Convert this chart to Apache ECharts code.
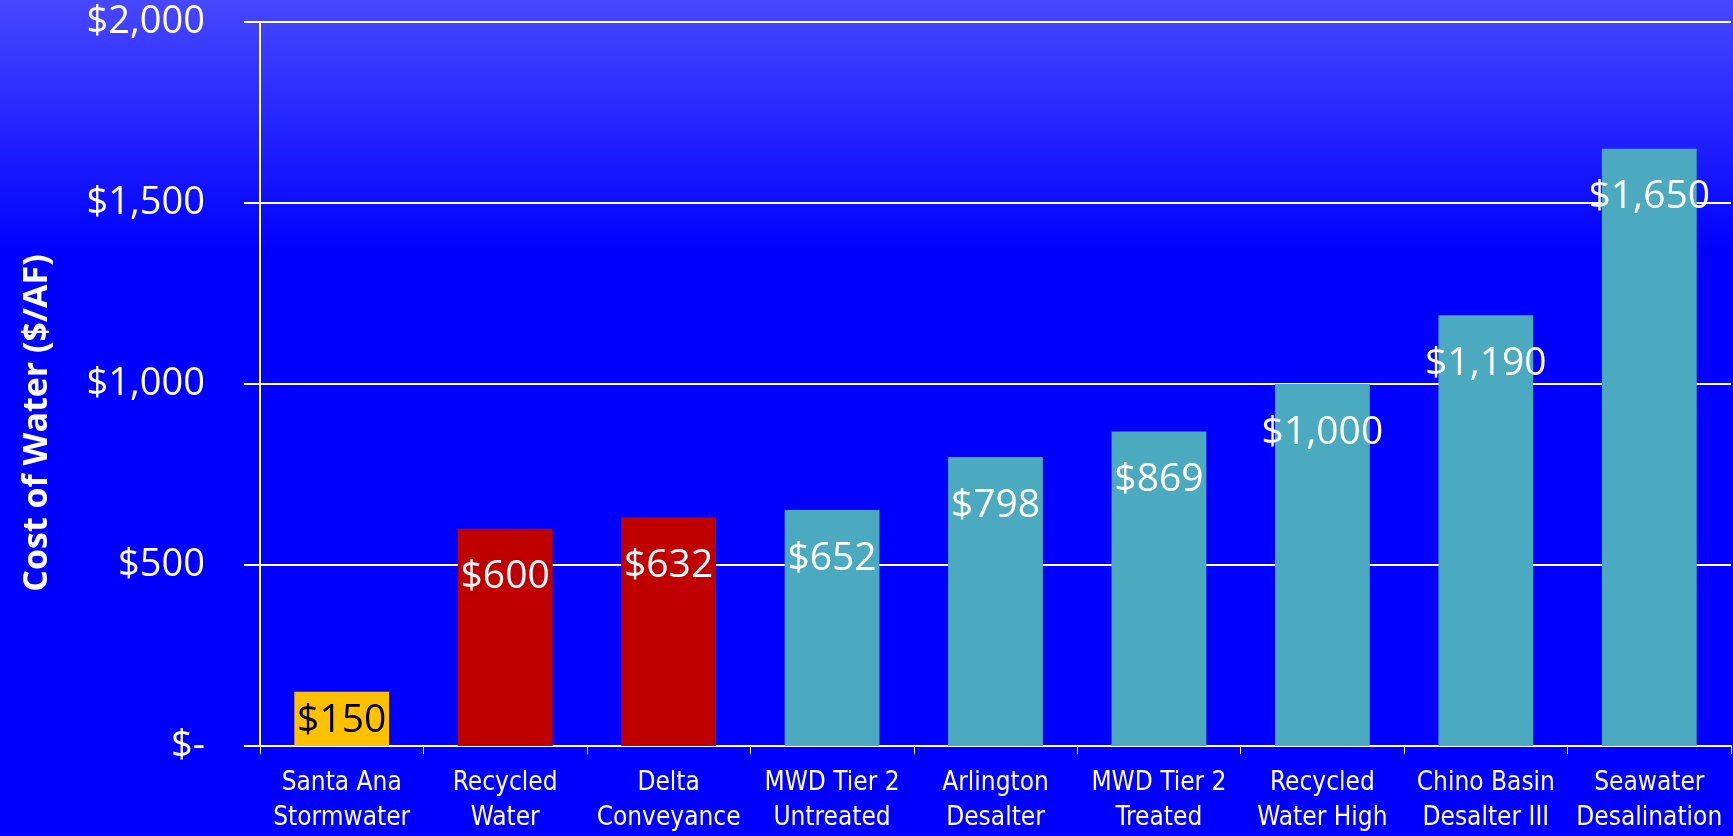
<!DOCTYPE html>
<html>
<head>
<meta charset="utf-8">
<script src="https://cdn.jsdelivr.net/npm/echarts@6/dist/echarts.min.js"></script>
<style>
html, body { margin: 0; padding: 0; }
#main { width: 1733px; height: 836px; }
</style>
</head>
<body>
<div id="main"></div>
<script>
var categories = [
    'Santa Ana\nStormwater', 'Recycled\nWater', 'Delta\nConveyance',
    'MWD Tier 2\nUntreated', 'Arlington\nDesalter', 'MWD Tier 2\nTreated',
    'Recycled\nWater High', 'Chino Basin\nDesalter III', 'Seawater\nDesalination'
];
var costs = [150, 600, 632, 652, 798, 869, 1000, 1190, 1650];
var barColors = ['#FFC000', '#C00000', '#C00000', '#4BA9C0', '#4BA9C0', '#4BA9C0', '#4BA9C0', '#4BA9C0', '#4BA9C0'];
var yTicks = [0, 500, 1000, 1500, 2000];

var labelFont = '"Open Sans", Lato, sans-serif';

function money(v) {
    if (v === 0) return '$-';
    return '$' + v.toLocaleString('en-US');
}

var chart = echarts.init(document.getElementById('main'));

var barData = costs.map(function (v, i) {
    var item = {
        value: v,
        itemStyle: { color: barColors[i] }
    };
    if (i === 0) {
        // short bar: label sits lower and is black
        item.label = { color: '#000', distance: 10 };
    }
    return item;
});

option = {
    backgroundColor: {
        type: 'linear', x: 0, y: 0, x2: 0, y2: 1,
        colorStops: [
            { offset: 0, color: '#4848ff' },
            { offset: 0.3, color: '#0000ff' },
            { offset: 1, color: '#0000ff' }
        ]
    },
    grid: { left: 260, right: 2, top: 22, bottom: 90 },
    graphic: [{
        type: 'text',
        x: 37,
        y: 423,
        rotation: Math.PI / 2,
        style: {
            text: 'Cost of Water ($/AF)',
            fill: '#fff',
            font: 'bold 34px "Open Sans", sans-serif',
            align: 'center',
            verticalAlign: 'middle'
        }
    }],
    xAxis: {
        type: 'category',
        data: categories,
        axisLine: { lineStyle: { color: '#fff', width: 2 } },
        axisTick: { show: true, length: 8, lineStyle: { color: '#fff', width: 1 } },
        axisLabel: {
            color: '#fff',
            fontFamily: '"Liberation Sans Narrow", "DejaVu Sans Condensed", sans-serif',
            fontSize: 26,
            lineHeight: 35,
            margin: 20,
            interval: 0
        }
    },
    yAxis: {
        type: 'value',
        min: yTicks[0],
        max: yTicks[yTicks.length - 1],
        interval: 500,
        axisLine: { show: true, lineStyle: { color: '#fff', width: 2 } },
        axisTick: { show: true, length: 16, lineStyle: { color: '#fff', width: 2 } },
        splitLine: { lineStyle: { color: '#fff', width: 2 } },
        axisLabel: {
            color: '#fff',
            fontFamily: labelFont,
            fontSize: 38,
            margin: 55,
            formatter: money
        }
    },
    series: [{
        type: 'bar',
        data: barData,
        barWidth: '58%',
        label: {
            show: true,
            position: 'insideTop',
            distance: 29,
            color: '#fff',
            fontFamily: labelFont,
            fontSize: 39,
            formatter: function (p) { return money(p.value); }
        }
    }]
};
chart.setOption(option);
</script>
</body>
</html>
